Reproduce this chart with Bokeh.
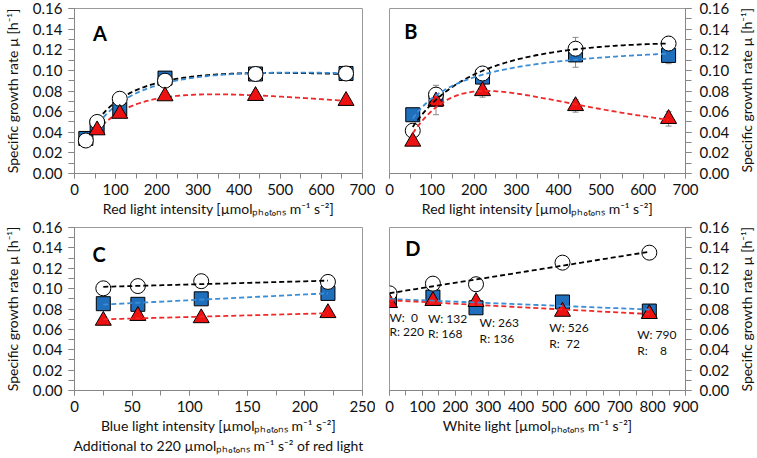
import numpy as np
from bokeh.plotting import figure
from bokeh.layouts import column, row
from bokeh.models import (FixedTicker, NumeralTickFormatter, Label, Whisker,
                          ColumnDataSource, TeeHead, Div)
from bokeh.core.properties import value
from bokeh.embed import file_html
from bokeh.resources import INLINE

FONT = "Lato"

# ---------------- data ----------------
# Panel A: red light
a_x = [27.5, 55, 110, 220, 440, 660]
a_square = [0.034, 0.0455, 0.0625, 0.0925, 0.0965, 0.097]
a_circle = [0.032, 0.050, 0.0725, 0.090, 0.0965, 0.097]
a_tri_x = [55, 110, 220, 440, 660]
a_tri = [0.042, 0.058, 0.075, 0.0753, 0.0705]

# Panel B: red light
b_x = [55, 110, 220, 440, 660]
b_square = [0.057, 0.072, 0.0935, 0.115, 0.1145]
b_square_err = [0.002, 0.004, 0.003, 0.012, 0.008]
b_circle = [0.0415, 0.0765, 0.097, 0.121, 0.126]
b_circle_err = [0.002, 0.009, 0.002, 0.011, 0.007]
b_tri = [0.031, 0.070, 0.080, 0.0655, 0.053]
b_tri_err = [0.002, 0.013, 0.006, 0.006, 0.007]

# Panel C: blue light added to 220 red
c_x = [25, 55, 110, 220]
c_circle = [0.1003, 0.1025, 0.1073, 0.1066]
c_square = [0.0852, 0.0846, 0.0900, 0.0953]
c_tri = [0.0686, 0.0733, 0.0711, 0.0761]

# Panel D: white light
d_x = [0, 132, 263, 526, 790]
d_circle = [0.0954, 0.1049, 0.1043, 0.1255, 0.1353]
d_square = [0.089, 0.0917, 0.0812, 0.0869, 0.078]
d_square_err = [0.001, 0.001, 0.005, 0.001, 0.001]
d_tri = [0.086, 0.088, 0.087, 0.0774, 0.0752]
d_label_w = ["W:\u00a0\u00a00", "W: 132", "W: 263", "W: 526", "W: 790"]
d_label_r = ["R: 220", "R: 168", "R: 136", "R:\u00a0\u00a072", "R:\u00a0\u00a0\u00a0\u00a08"]
d_label_x = [0, 117, 274, 486, 753]
d_label_wy = [0.0713, 0.0703, 0.0664, 0.0615, 0.0547]
d_label_ry = [0.0575, 0.0560, 0.0514, 0.0465, 0.0390]

y_ticks = [0.0, 0.02, 0.04, 0.06, 0.08, 0.10, 0.12, 0.14, 0.16]
y_minor = [i * 0.01 for i in range(17)]
ab_ticks = [0, 100, 200, 300, 400, 500, 600, 700]
ab_minor = list(range(0, 701, 50))
c_ticks = [0, 50, 100, 150, 200, 250]
c_minor = list(range(0, 251, 25))
d_ticks = [0, 100, 200, 300, 400, 500, 600, 700, 800, 900]
d_minor = list(range(0, 901, 50))

SUB = "µmolₚₕₒₜₒₙₛ m⁻¹ s⁻²"
Y_LABEL = "Specific growth rate µ [h⁻¹]"

# ---------------- styling ----------------
BLUE = "#1f6fbd"
RED = "#ee1111"
BLUE_LINE = "#3a8ed6"
RED_LINE = "#f02828"
AX = "#868686"
ERR = "#8a8a8a"


def haldane_curve(x, y, n=200):
    x = np.asarray(x, float)
    y = np.asarray(y, float)
    ks = np.linspace(1, 800, 400)[:, None, None]
    ki = np.logspace(1.5, 6, 300)[None, :, None]
    g = x[None, None, :] / (ks + x[None, None, :] + x[None, None, :] ** 2 / ki)
    mumax = (g * y).sum(-1) / (g * g).sum(-1)
    sse = ((mumax[..., None] * g - y) ** 2).sum(-1)
    i, j = np.unravel_index(np.argmin(sse), sse.shape)
    k_s, k_i, m = ks[i, 0, 0], ki[0, j, 0], mumax[i, j]
    xs = np.linspace(x.min(), x.max(), n)
    return xs, m * xs / (k_s + xs + xs ** 2 / k_i)


def linear_curve(x, y, n=50):
    x = np.asarray(x, float)
    c = np.polyfit(x, np.asarray(y, float), 1)
    xs = np.linspace(x.min(), x.max(), n)
    return xs, np.polyval(c, xs)


def make_fig(xr, xt, xm, right, width, height, mbl, mbr, mbt, mbb, xlabel):
    p = figure(width=width, height=height, x_range=xr, y_range=(0, 0.16),
               y_axis_location="right" if right else "left",
               output_backend="svg", toolbar_location=None, title=None,
               min_border_left=mbl, min_border_right=mbr,
               min_border_top=mbt, min_border_bottom=mbb)
    p.grid.visible = False
    p.outline_line_color = "#9a9a9a"
    p.outline_line_width = 1
    p.background_fill_color = "white"
    p.border_fill_color = "white"
    p.xaxis.ticker = FixedTicker(ticks=xt, minor_ticks=xm)
    p.yaxis.ticker = FixedTicker(ticks=y_ticks, minor_ticks=y_minor)
    p.yaxis.formatter = NumeralTickFormatter(format="0.00")
    for ax in (p.xaxis[0], p.yaxis[0]):
        ax.axis_line_color = AX
        ax.major_tick_line_color = AX
        ax.minor_tick_line_color = AX
        ax.major_tick_in = 0
        ax.minor_tick_in = 0
        ax.major_label_text_font = FONT
        ax.major_label_text_font_size = "15px"
        ax.major_label_text_color = "#111111"
        ax.axis_label_text_font = FONT
        ax.axis_label_text_font_size = "14px"
        ax.axis_label_text_font_style = "normal"
        ax.axis_label_text_color = "#111111"
    xa = p.xaxis[0]
    xa.major_tick_out = 5
    xa.minor_tick_out = 5
    xa.major_label_standoff = 5
    xa.axis_label_standoff = 2
    xa.axis_label = xlabel
    ya = p.yaxis[0]
    ya.major_tick_out = 6
    ya.minor_tick_out = 6
    if right:
        ya.major_label_standoff = 8
    else:
        ya.axis_label = Y_LABEL
        ya.major_label_standoff = 6
        ya.axis_label_standoff = 9
    return p


def side_label(height, mbt, fh, width=20):
    # narrow strip holding the right-hand y-axis title, reading bottom-to-top
    center = mbt + fh / 2
    html = ('<div style="width:%dpx;height:%dpx;display:flex;align-items:center;'
            'justify-content:center;font-family:Lato;font-size:14px;color:#111111;'
            'white-space:nowrap;overflow:visible;">'
            '<span style="writing-mode:vertical-rl;transform:rotate(180deg);">%s</span>'
            '</div>') % (width, int(round(2 * center)), Y_LABEL)
    return Div(text=html, width=width, height=height, margin=0)


def errbars(p, x, y, e):
    src = ColumnDataSource(dict(x=x, lo=[a - b for a, b in zip(y, e)],
                                hi=[a + b for a, b in zip(y, e)]))
    w = Whisker(source=src, base="x", lower="lo", upper="hi",
                line_color=ERR, line_width=1, level="underlay",
                upper_head=TeeHead(size=6, line_color=ERR, line_width=1),
                lower_head=TeeHead(size=6, line_color=ERR, line_width=1))
    p.add_layout(w)


def markers(p, xs, sq, ci, tri, tri_x=None):
    p.scatter(xs, sq, marker="square", size=14, fill_color=BLUE,
              line_color="black", line_width=1)
    p.scatter(xs, ci, marker="circle", size=15, fill_color="white",
              line_color="black", line_width=1)
    p.scatter(tri_x if tri_x is not None else xs, tri, marker="triangle",
              size=16, fill_color=RED, line_color="black", line_width=1)


def curves(p, pairs):
    for (xs, ys), col in pairs:
        p.line(xs, ys, line_color=col, line_width=1.8, line_dash="5 3")


def letter(p, x, y, t):
    p.add_layout(Label(x=x, y=y, text=t, text_font=FONT, text_font_style="bold",
                       text_font_size="20px", text_baseline="middle",
                       text_align="left", text_color="black"))


LW, RW, SW = 375, 362, 20
TH, BH = 219, 237
TOP_T, TOP_B = 8, 8
FH_T, FH_B = TH - TOP_T - 46, BH - TOP_B - 64

# Panel A
pA = make_fig((0, 700), ab_ticks, ab_minor, False, LW, TH, 66, 13, TOP_T, 46,
              "Red light intensity [" + SUB + "]")
curves(pA, [(haldane_curve(a_x, a_circle), "black"),
            (haldane_curve(a_x, a_square), BLUE_LINE),
            (haldane_curve(a_tri_x, a_tri), RED_LINE)])
markers(pA, a_x, a_square, a_circle, a_tri, a_tri_x)
letter(pA, 45, 0.136, "A")

# Panel B
pB = make_fig((0, 700), ab_ticks, ab_minor, True, RW, TH, 14, 52, TOP_T, 46,
              "Red light intensity [" + SUB + "]")
errbars(pB, b_x, b_square, b_square_err)
errbars(pB, b_x, b_circle, b_circle_err)
errbars(pB, b_x, b_tri, b_tri_err)
markers(pB, b_x, b_square, b_circle, b_tri)
curves(pB, [(haldane_curve(b_x, b_circle), "black"),
            (haldane_curve(b_x, b_square), BLUE_LINE),
            (haldane_curve(b_x, b_tri), RED_LINE)])
letter(pB, 35, 0.1377, "B")

# Panel C
pC = make_fig((0, 250), c_ticks, c_minor, False, LW, BH, 66, 13, TOP_B, 64,
              "Blue light intensity [" + SUB + "]\nAdditional to 220 " + SUB + " of red light")
markers(pC, c_x, c_square, c_circle, c_tri)
curves(pC, [(linear_curve(c_x, c_circle), "black"),
            (linear_curve(c_x, c_square), BLUE_LINE),
            (linear_curve(c_x, c_tri), RED_LINE)])
letter(pC, 15.7, 0.134, "C")

# Panel D
pD = make_fig((0, 900), d_ticks, d_minor, True, RW, BH, 14, 52, TOP_B, 64,
              "White light [" + SUB + "]")
errbars(pD, d_x, d_square, d_square_err)
markers(pD, d_x, d_square, d_circle, d_tri)
curves(pD, [(linear_curve(d_x, d_circle), "black"),
            (linear_curve(d_x, d_square), BLUE_LINE),
            (linear_curve(d_x, d_tri), RED_LINE)])
pD.text(x=d_label_x, y=d_label_wy, text=d_label_w, text_font=value(FONT),
        text_font_size="12px", text_baseline="middle", text_align="left",
        text_color="#111111")
pD.text(x=d_label_x, y=d_label_ry, text=d_label_r, text_font=value(FONT),
        text_font_size="12px", text_baseline="middle", text_align="left",
        text_color="#111111")
letter(pD, 48, 0.14, "D")

sT = side_label(TH, TOP_T, FH_T, SW)
sB = side_label(BH, TOP_B, FH_B, SW)

layout = column(row(pA, pB, sT), row(pC, pD, sB))
open("out.html", "w").write(file_html(layout, INLINE))
